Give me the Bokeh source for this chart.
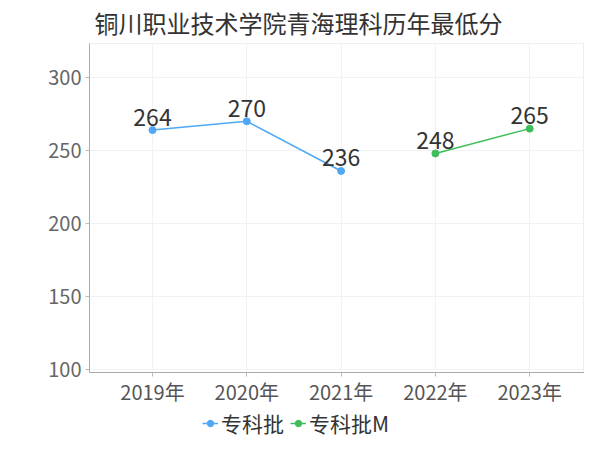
from bokeh.plotting import figure
from bokeh.layouts import column
from bokeh.models import Range1d, FixedTicker, Legend, LegendItem, ColumnDataSource
from bokeh.embed import file_html
from bokeh.resources import INLINE
from bokeh.core.properties import value

title_text = "铜川职业技术学院青海理科历年最低分"
years = ["2019年", "2020年", "2021年", "2022年", "2023年"]
s1_name = "专科批"
s1_idx = [0, 1, 2]
s1_vals = [264, 270, 236]
s2_name = "专科批M"
s2_idx = [3, 4]
s2_vals = [248, 265]
y_ticks = [100, 150, 200, 250, 300]

FONT = "Noto Sans CJK SC"
BLUE = "#4fa8f6"
GREEN = "#3dbe58"

p = figure(frame_width=495, frame_height=329, output_backend="svg", toolbar_location=None,
           x_range=Range1d(-0.668, 4.581), y_range=Range1d(98, 323.3),
           min_border_left=89, min_border_right=0, min_border_top=43, min_border_bottom=0)

p.title.text = title_text
p.title.text_font = FONT
p.title.text_font_size = "24px"
p.title.text_font_style = "normal"
p.title.text_color = "#333333"
p.title.align = "left"
p.title.vertical_align = "middle"
p.title.offset = 5
p.title.standoff = 6

p.outline_line_color = "#eeeeee"
p.background_fill_color = "white"
p.border_fill_color = "white"

# axes
p.xaxis.ticker = FixedTicker(ticks=list(range(len(years))))
p.xaxis.major_label_overrides = {i: y for i, y in enumerate(years)}
p.yaxis.ticker = FixedTicker(ticks=y_ticks)
for ax in (p.xaxis, p.yaxis):
    ax.axis_line_color = "#aaaaaa"
    ax.major_tick_line_color = "#bbbbbb"
    ax.major_tick_out = 4
    ax.major_tick_in = 0
    ax.minor_tick_line_color = None
    ax.major_label_text_font = FONT
p.xaxis.major_label_text_font_size = "20px"
p.xaxis.major_label_text_color = "#555555"
p.xaxis.major_label_standoff = 0
p.yaxis.major_label_text_font_size = "20px"
p.yaxis.major_label_text_color = "#666666"
p.yaxis.major_label_standoff = 4

p.xgrid.grid_line_color = "#f2f2f2"
p.ygrid.grid_line_color = "#f2f2f2"
p.xgrid.ticker = FixedTicker(ticks=list(range(len(years))))
p.ygrid.ticker = FixedTicker(ticks=y_ticks)

src1 = ColumnDataSource(dict(x=s1_idx, y=s1_vals, t=[str(v) for v in s1_vals]))
src2 = ColumnDataSource(dict(x=s2_idx, y=s2_vals, t=[str(v) for v in s2_vals]))

p.line("x", "y", source=src1, line_color=BLUE, line_width=1.5)
p.scatter("x", "y", source=src1, size=7, fill_color=BLUE, line_color=BLUE)
p.line("x", "y", source=src2, line_color=GREEN, line_width=1.5)
p.scatter("x", "y", source=src2, size=7, fill_color=GREEN, line_color=GREEN)

for src in (src1, src2):
    p.text("x", "y", text="t", source=src, text_font=value(FONT), text_font_size="23px",
           text_color="#333333", text_align="center", text_baseline="alphabetic",
           y_offset=-13)

# legend strip below the chart (series renderers kept out of its visible range)
lg = figure(width=584, height=30, output_backend="svg", toolbar_location=None,
            x_axis_type=None, y_axis_type=None,
            x_range=Range1d(-100, -99), y_range=Range1d(-100, -99),
            min_border_left=0, min_border_right=0, min_border_top=0, min_border_bottom=0)
lg.outline_line_color = None
lg.xgrid.visible = False
lg.ygrid.visible = False
g1 = lg.line("x", "y", source=src1, line_color=BLUE, line_width=1.5)
m1 = lg.scatter("x", "y", source=src1, size=7, fill_color=BLUE, line_color=BLUE)
g2 = lg.line("x", "y", source=src2, line_color=GREEN, line_width=1.5)
m2 = lg.scatter("x", "y", source=src2, size=7, fill_color=GREEN, line_color=GREEN)

legend = Legend(items=[LegendItem(label=s1_name, renderers=[g1, m1]),
                       LegendItem(label=s2_name, renderers=[g2, m2])],
                orientation="horizontal", location=(113, 0),
                label_text_font=FONT, label_text_font_size="21px", label_text_color="#333333",
                glyph_width=16, glyph_height=16, label_standoff=3, spacing=6,
                padding=0, margin=0, border_line_alpha=0, background_fill_alpha=0)
lg.add_layout(legend)

layout = column(p, lg, spacing=0)
open("out.html", "w").write(file_html(layout, INLINE))
